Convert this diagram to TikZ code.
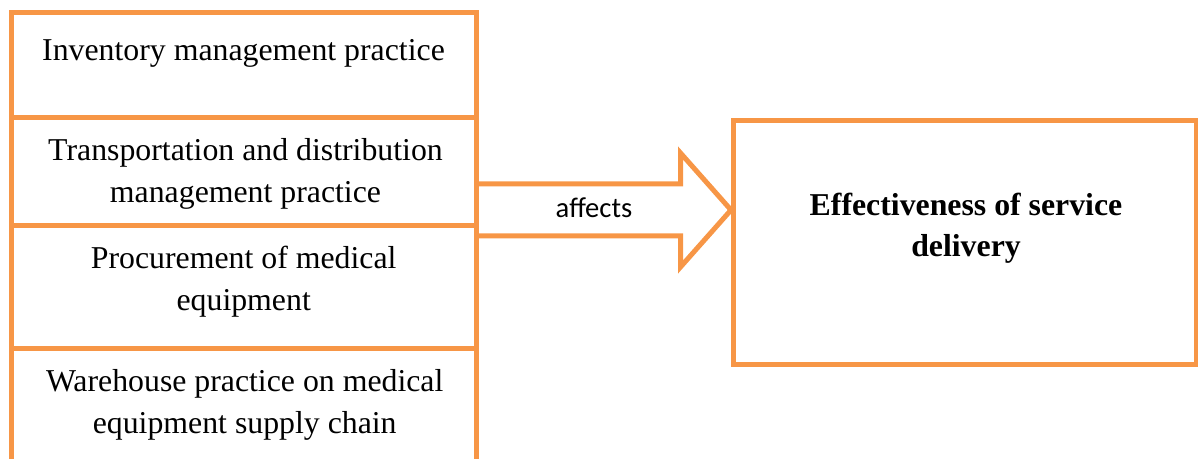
\documentclass[tikz,border=0pt]{standalone}
\usepackage{fontspec}
\setmainfont{Liberation Serif}
\newfontfamily\calibri{Carlito}
\usetikzlibrary{calc}
\definecolor{accorange}{HTML}{F79646}

\begin{document}
\begin{tikzpicture} [x=.5pt, y=-.5pt,
 box/.style={draw=accorange, line width=2.5pt, minimum width=232.5pt, inner sep=0pt},
 side/.style={accorange, line width=2.5pt},
 txt/.style={anchor=base, align=center, inner sep=0pt, font=\fontsize{15.9}{20.9}\selectfont}]
\useasboundingbox (0,0) rectangle (1198,459);
% left stack of practices
\node[box, minimum height=52.5pt] (inv) at (244,65) {};
\node[box, minimum height=54pt] (trans) at (244,171.5) {};
\node[box, minimum height=61.75pt] (proc) at (244,287.25) {};
\node[minimum width=232.5pt, minimum height=62pt, inner sep=0pt] (ware) at (244,411) {};
\draw[side] (ware.north west) -- (ware.south west) (ware.north east) -- (ware.south east);
% base anchor sits on the last line
\node[txt] (invtxt) at (243.5,61) {Inventory management practice};
\node[txt] (transtxt) at (245.5,202.7) {Transportation and distribution\\management practice};
\node[txt] (proctxt) at (243.7,310.7) {Procurement of medical\\equipment};
\node[txt] (waretxt) at (244.7,433.3) {Warehouse practice on medical\\equipment supply chain};
% outcome
\node[box, minimum width=231.25pt, minimum height=122pt] (eff) at (964.75,242.5) {};
\node[txt, font=\fontsize{15.9}{20.5}\selectfont\bfseries] (efftxt) at (966,257) {Effectiveness of service\\delivery};
% block arrow
\draw[side] (trans.east |- 0,184) -- (680.5,184) -- (680.5,153) -- (eff.west |- 0,210)
  -- (680.5,267) -- (680.5,236) -- (trans.east |- 0,236);
\node[anchor=base, inner sep=0pt, font=\calibri\fontsize{14.3}{17}\selectfont] (aff) at (594,217.7) {affects};
\end{tikzpicture}
\end{document}
